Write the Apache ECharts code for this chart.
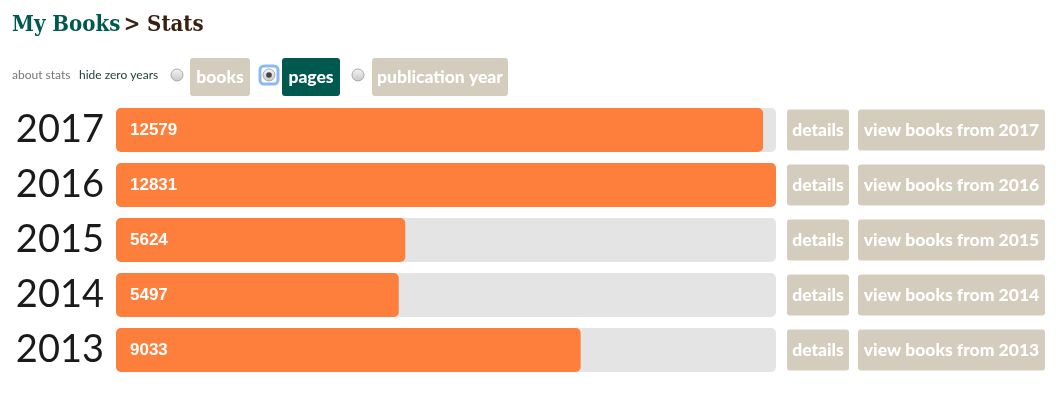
<!DOCTYPE html>
<html><head><meta charset="utf-8">
<script src="https://cdn.jsdelivr.net/npm/echarts@6/dist/echarts.min.js"></script>
<style>html,body{margin:0;padding:0;background:#fff}#c{width:1058px;height:396px}</style>
</head><body><div id="c"></div>
<script>
const years = ['2017','2016','2015','2014','2013'];
const pages = [12579, 12831, 5624, 5497, 9033];
const modeButtons = ['books','pages','publication year'];
const selectedMode = 'pages';

const chart = echarts.init(document.getElementById('c'));
const maxVal = Math.max(...pages);

const btnBg = '#d4cdbd';
const teal = '#00594f';
const hdrFont = '"DejaVu Serif Condensed", "DejaVu Serif", serif';

const graphics = [
  {type:'text', left:12, top:14, style:{rich:{a:{fontFamily:hdrFont, fontWeight:'bold', fontSize:22, fill:teal}, b:{fontFamily:hdrFont, fontWeight:'bold', fontSize:22, fill:'#382110'}}, text:'{a|My Books} {b|> Stats}'}},
  {type:'text', left:12, top:69, style:{text:'about stats', fontFamily:'Lato', fontSize:12, fill:'#777'}},
  {type:'text', left:79, top:69, style:{text:'hide zero years', fontFamily:'Lato', fontSize:12, fill:'#1a3a36'}}
];
const btnX = [190, 282, 372];
const btnW = [60, 58, 136];
const radioX = [177, 269, 358];
modeButtons.forEach((m,i)=>{
  const sel = m===selectedMode;
  if (sel) graphics.push({type:'rect', shape:{x:radioX[i]-9, y:75-9, width:18, height:18, r:4}, style:{fill:'none', stroke:'#8cb9f5', lineWidth:3}});
  graphics.push({type:'circle', shape:{cx:radioX[i], cy:75, r:6}, style:{fill:new echarts.graphic.LinearGradient(0,0,0,1,[{offset:0,color:'#f4f4f4'},{offset:1,color:'#c8c8c8'}]), stroke:'#999', lineWidth:0.8}});
  if (sel) graphics.push({type:'circle', shape:{cx:radioX[i], cy:75, r:2.8}, style:{fill:'#444'}});
  graphics.push({type:'rect', shape:{x:btnX[i], y:58, width:btnW[i], height:38, r:3}, style:{fill: sel ? teal : btnBg}});
  graphics.push({type:'text', x:btnX[i]+btnW[i]/2, y:77, style:{text:m, fontFamily:'Lato', fontWeight:900, fontSize:17.5, fill:'#fff', align:'center', verticalAlign:'middle'}});
});

chart.setOption({
  animation:false,
  graphic: graphics,
  grid:{left:116, right:282, top:102.5, bottom:18.5, containLabel:false},
  xAxis:{type:'value', min:0, max:maxVal, show:false},
  yAxis:[
    {type:'category', data:years, inverse:true, axisLine:{show:false}, axisTick:{show:false},
     axisLabel:{fontFamily:'Lato', fontSize:38, color:'#1a1a1a', margin:12}},
    {type:'category', data:years, inverse:true, position:'right', axisLine:{show:false}, axisTick:{show:false},
     axisLabel:{margin:11, align:'left', formatter: y => '{d|details}{s|}{v|view books from ' + y + '}',
       rich:{
         d:{backgroundColor:btnBg, color:'#fff', fontFamily:'Lato', fontWeight:900, fontSize:17.5, width:62, height:41, lineHeight:41, align:'center', borderRadius:3},
         s:{width:9, height:41},
         v:{backgroundColor:btnBg, color:'#fff', fontFamily:'Lato', fontWeight:900, fontSize:17.5, width:187, height:41, lineHeight:41, align:'center', borderRadius:3}
       }}}
  ],
  series:[{
    type:'bar', data:pages, barWidth:44,
    itemStyle:{color:'#fe7f3b', borderRadius:5},
    showBackground:true,
    backgroundStyle:{color:'#e4e4e4', borderRadius:5},
    label:{show:true, position:'insideLeft', distance:14, color:'#fff', fontFamily:'Liberation Sans', fontWeight:'bold', fontSize:17}
  }]
});
</script></body></html>
